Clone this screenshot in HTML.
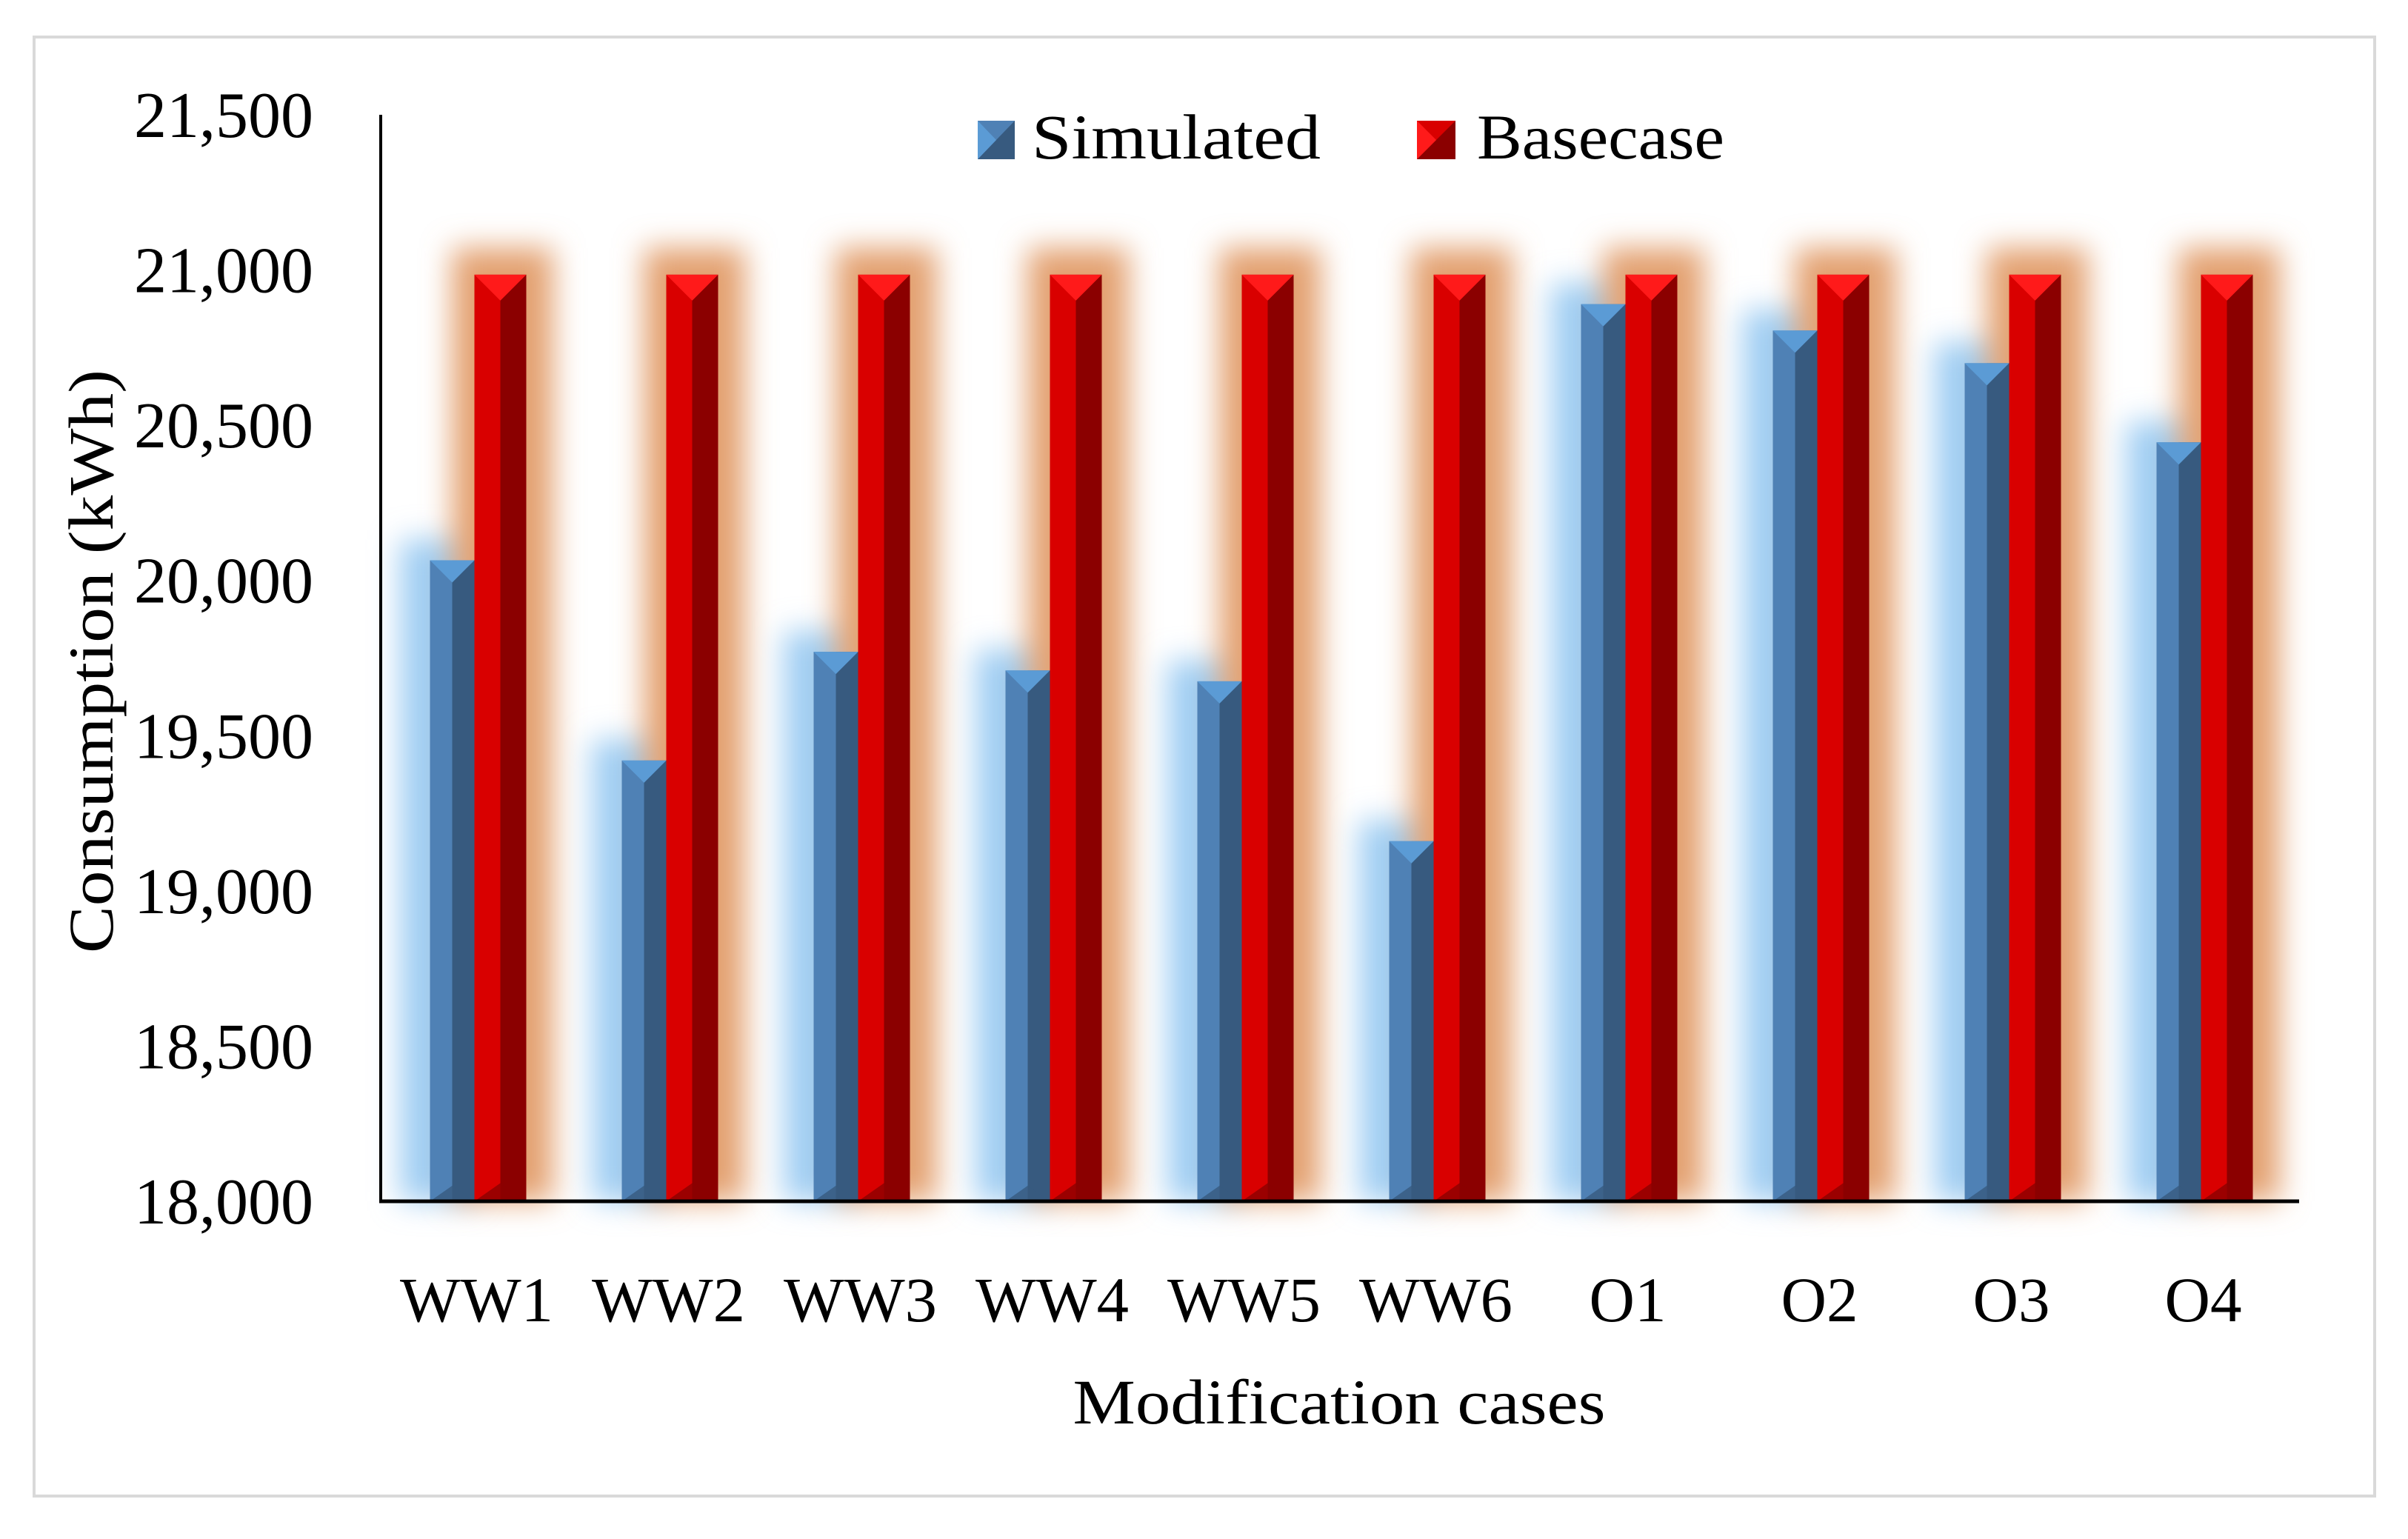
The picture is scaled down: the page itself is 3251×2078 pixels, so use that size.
<!DOCTYPE html>
<html><head><meta charset="utf-8"><style>
html,body{margin:0;padding:0;background:#fff}
svg{display:block}
text{font-family:"Liberation Serif",serif;fill:#000}
</style></head><body>
<svg id="chart" width="3251" height="2078" viewBox="0 0 3251 2078" xmlns="http://www.w3.org/2000/svg">
<defs>
<filter id="glowB" x="-100%" y="-20%" width="300%" height="140%"><feGaussianBlur stdDeviation="20"/></filter>
<filter id="glowR" x="-100%" y="-20%" width="300%" height="140%"><feGaussianBlur stdDeviation="20"/></filter>
</defs>
<rect x="46" y="50" width="3160" height="1970" fill="#fff" stroke="#d9d9d9" stroke-width="4"/>
<g id="glows"></g>
<g id="bars"></g>
<g id="axes"></g>
<g id="legend">
  <g>
    <rect x="1320" y="163" width="50" height="52" fill="#4f81b5"/>
    <polygon points="1370,163 1370,215 1320,215" fill="#375a7f"/>
    <polygon points="1320,163 1345,189 1320,215" fill="#5b9bd5"/>
    <text x="1393" y="214" font-size="86" textLength="390" lengthAdjust="spacingAndGlyphs">Simulated</text>
  </g>
  <g>
    <rect x="1913" y="163" width="52" height="52" fill="#d90000"/>
    <polygon points="1965,163 1965,215 1913,215" fill="#8b0000"/>
    <polygon points="1913,163 1939,189 1913,215" fill="#ff1a1a"/>
    <text x="1994" y="214" font-size="86" textLength="334" lengthAdjust="spacingAndGlyphs">Basecase</text>
  </g>
</g>
<text font-size="86" text-anchor="middle" textLength="788" lengthAdjust="spacingAndGlyphs" transform="translate(152,893) rotate(-90)">Consumption (kWh)</text>
<text font-size="86" x="1808" y="1922" text-anchor="middle" textLength="719" lengthAdjust="spacingAndGlyphs">Modification cases</text>
</svg>
<script>
const categories = ["WW1","WW2","WW3","WW4","WW5","WW6","O1","O2","O3","O4"];
const simulated = [20065, 19420, 19770, 19710, 19675, 19160, 20890, 20805, 20700, 20445];
const basecase = [20985, 20985, 20985, 20985, 20985, 20985, 20985, 20985, 20985, 20985];
const yTicks = [18000, 18500, 19000, 19500, 20000, 20500, 21000, 21500];
const yTickLabels = ["18,000","18,500","19,000","19,500","20,000","20,500","21,000","21,500"];

const NS = "http://www.w3.org/2000/svg";
const X0 = 514, X1 = 3104, Y0 = 1622, Y1 = 155, VMIN = 18000, VMAX = 21500;
const band = (X1 - X0) / categories.length;
function y(v){ return Y0 - (v - VMIN) / (VMAX - VMIN) * (Y0 - Y1); }
function xc(i){ return X0 + band * (i + 0.5); }
function mk(tag, attrs, parent){ const e = document.createElementNS(NS, tag); for (const k in attrs) e.setAttribute(k, attrs[k]); parent.appendChild(e); return e; }

const glows = document.getElementById('glows');
const bars = document.getElementById('bars');
const axes = document.getElementById('axes');

function bar3d(x0, w, top, cl, cr, ct, name){
  const g = mk('g', {}, bars);
  
  
  const mid = x0 + w / 2, d = w * 0.5;
  mk('rect', {x: x0, y: top, width: w/2, height: Y0 - top, fill: cl}, g);
  mk('rect', {x: mid, y: top, width: w/2, height: Y0 - top, fill: cr}, g);
  mk('polygon', {points: `${x0},${top} ${x0+w},${top} ${mid},${top+d}`, fill: ct}, g);
  mk('polygon', {points: `${x0},${Y0} ${x0+w},${Y0} ${mid},${Y0-d*0.7}`, fill: cr, opacity: 0.8}, g);
}

categories.forEach((c, i) => {
  const cx = xc(i);
  const bx = cx - 63, bw = 60, rx = cx - 3, rw = 70;
  const sTop = y(simulated[i]), rTop = y(basecase[i]);
  const gb = mk('rect', {x: bx - 40, y: sTop - 28, width: bw + 40, height: Y0 - sTop + 28, fill: '#9fcdf3', filter: 'url(#glowB)'}, glows);
  
  
  const gr = mk('rect', {x: rx - 30, y: rTop - 36, width: rw + 66, height: Y0 - rTop + 36, fill: '#e3a070', filter: 'url(#glowR)'}, glows);
  
  
  bar3d(bx, bw, sTop, '#4f81b5', '#375a7f', '#5b9bd5', 'bar-simulated-' + c.toLowerCase());
  bar3d(rx, rw, rTop, '#d90000', '#8b0000', '#ff1a1a', 'bar-basecase-' + c.toLowerCase());
  const t = mk('text', {x: cx, y: 1784, 'font-size': 86, 'text-anchor': 'middle', textLength: c.length === 3 ? 207 : 104, lengthAdjust: 'spacingAndGlyphs'}, axes);
  
  
  t.textContent = c;
});

yTicks.forEach((v, i) => {
  const t = mk('text', {x: 423, y: y(v) + 30, 'font-size': 88, 'text-anchor': 'end'}, axes);
  
  
  t.textContent = yTickLabels[i];
});

const ya = mk('line', {x1: X0, y1: Y1, x2: X0, y2: Y0 + 2, stroke: '#000', 'stroke-width': 4}, axes);


const xa = mk('line', {x1: X0 - 2, y1: Y0, x2: X1, y2: Y0, stroke: '#000', 'stroke-width': 5}, axes);


</script>
</body></html>
